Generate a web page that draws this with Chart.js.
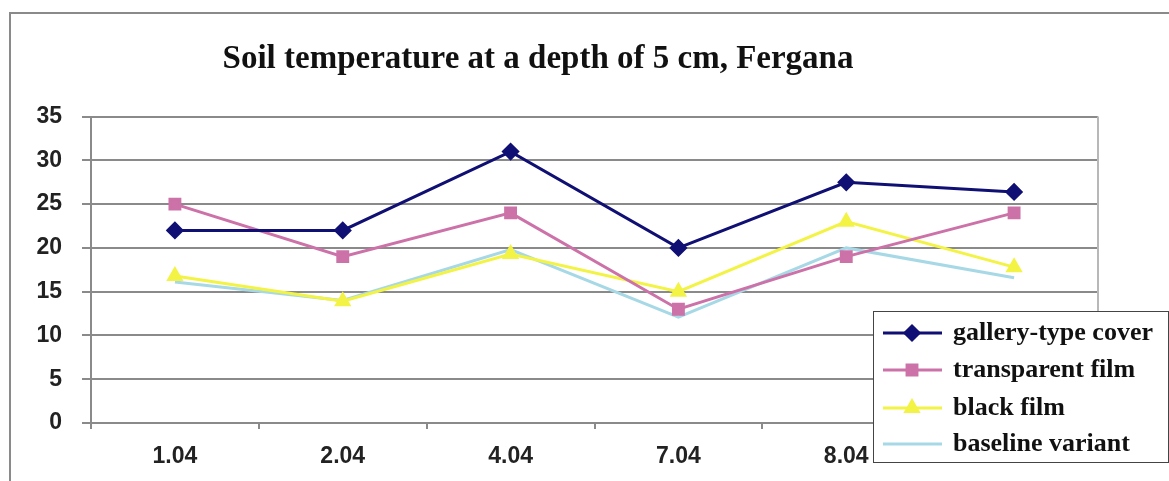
<!DOCTYPE html>
<html><head><meta charset="utf-8">
<script src="https://cdn.jsdelivr.net/npm/chart.js@4"></script>
<style>html,body{margin:0;padding:0;background:#fff}#wrap{width:1169px;height:481px;position:relative}</style>
</head><body><div id="wrap"><canvas id="c" width="1169" height="481"></canvas></div>
<script>
const categories = ['1.04', '2.04', '4.04', '7.04', '8.04', '9.04'];
const galleryCover = [22, 22, 31, 20, 27.5, 26.4];
const transparentFilm = [25, 19, 24, 13, 19, 24];
const blackFilm = [16.8, 13.9, 19.3, 15, 23, 17.8];
const baselineVariant = [16.1, 14, 19.8, 12.1, 20, 16.6];
const seriesNames = ['gallery-type cover', 'transparent film', 'black film', 'baseline variant'];
const yTicks = [0, 5, 10, 15, 20, 25, 30, 35];
const titleText = 'Soil temperature at a depth of 5 cm, Fergana';

const frameAndBorder = {
  id: 'frameAndBorder',
  beforeDraw(chart) {
    const ctx = chart.ctx;
    ctx.save();
    ctx.fillStyle = '#ffffff';
    ctx.fillRect(0, 0, chart.width, chart.height);
    ctx.strokeStyle = '#8a8a8a';
    ctx.lineWidth = 2;
    ctx.beginPath();
    ctx.moveTo(10, chart.height);
    ctx.lineTo(10, 13);
    ctx.lineTo(chart.width, 13);
    ctx.stroke();
    ctx.restore();
  },
  afterDatasetsDraw(chart) {
    const ctx = chart.ctx, a = chart.chartArea;
    ctx.save();
    ctx.strokeStyle = '#b8b8b8';
    ctx.lineWidth = 2;
    ctx.beginPath();
    ctx.moveTo(a.right, a.top);
    ctx.lineTo(a.right, a.bottom);
    ctx.stroke();
    ctx.restore();
  },
  afterLayout(chart) {
    if (chart.titleBlock) { chart.titleBlock.left = 0; chart.titleBlock.right = 1076; }
  }
};

const boxLegend = {
  id: 'boxLegend',
  afterDraw(chart, args, opts) {
    const ctx = chart.ctx;
    ctx.save();
    ctx.fillStyle = '#ffffff';
    ctx.strokeStyle = '#444';
    ctx.lineWidth = 1;
    ctx.fillRect(opts.left, opts.top, opts.right - opts.left, opts.bottom - opts.top);
    ctx.strokeRect(opts.left + 0.5, opts.top + 0.5, opts.right - opts.left, opts.bottom - opts.top);
    chart.data.datasets.forEach((ds, i) => {
      const y = opts.rows[i];
      ctx.strokeStyle = ds.borderColor;
      ctx.lineWidth = ds.borderWidth;
      ctx.beginPath();
      ctx.moveTo(opts.left + 10, y);
      ctx.lineTo(opts.left + 69, y);
      ctx.stroke();
      if (ds.pointRadius > 0) {
        ctx.fillStyle = ds.pointBackgroundColor;
        ctx.strokeStyle = ds.pointBorderColor;
        Chart.helpers.drawPoint(ctx, {pointStyle: ds.pointStyle, radius: ds.pointRadius, rotation: 0, borderWidth: 1}, opts.left + 39, y);
      }
      ctx.fillStyle = '#111';
      ctx.font = 'bold 26px "Liberation Serif"';
      ctx.textBaseline = 'middle';
      ctx.textAlign = 'left';
      ctx.fillText(ds.label, opts.left + 80, y);
    });
    ctx.restore();
  }
};

const tickFont = {family: '"Liberation Sans"', size: 23, weight: 'bold'};

new Chart(document.getElementById('c'), {
  type: 'line',
  data: {
    labels: categories,
    datasets: [
      {label: seriesNames[0], data: galleryCover, borderColor: '#0f0f74', pointBackgroundColor: '#0f0f74', pointBorderColor: '#0f0f74', pointStyle: 'rectRot', pointRadius: 7, borderWidth: 3},
      {label: seriesNames[1], data: transparentFilm, borderColor: '#cc72a8', pointBackgroundColor: '#cc72a8', pointBorderColor: '#cc72a8', pointStyle: 'rect', pointRadius: 7, borderWidth: 3},
      {label: seriesNames[2], data: blackFilm, borderColor: '#f3f345', pointBackgroundColor: '#f3f345', pointBorderColor: '#f3f345', pointStyle: 'triangle', pointRadius: 7, borderWidth: 3},
      {label: seriesNames[3], data: baselineVariant, borderColor: '#a7d8e6', pointBackgroundColor: '#a7d8e6', pointBorderColor: '#a7d8e6', pointStyle: 'circle', pointRadius: 0, borderWidth: 3}
    ]
  },
  options: {
    responsive: false,
    animation: false,
    devicePixelRatio: 1,
    layout: {padding: {left: 0, right: 71, top: 0, bottom: 0}},
    elements: {line: {tension: 0}},
    scales: {
      x: {
        type: 'category',
        offset: true,
        grid: {drawOnChartArea: false, drawTicks: true, tickLength: 6, offset: true, color: '#8a8a8a', lineWidth: 2},
        border: {display: true, color: '#8a8a8a', width: 2},
        ticks: {font: tickFont, color: '#222', padding: 14, maxRotation: 0, autoSkip: false},
        afterFit(s) { s.height = 58; }
      },
      y: {
        min: 0, max: 35,
        grid: {color: '#8a8a8a', lineWidth: 2, drawTicks: true, tickLength: 9},
        border: {display: true, color: '#8a8a8a', width: 2},
        ticks: {font: tickFont, color: '#222', padding: 20},
        afterBuildTicks(s) { s.ticks = yTicks.map(v => ({value: v})); },
        afterFit(s) { s.width = 91; }
      }
    },
    plugins: {
      legend: {display: false},
      tooltip: {enabled: false},
      title: {display: true, text: titleText, color: '#111',
        font: {family: '"Liberation Serif"', size: 33, weight: 'bold', lineHeight: 1.2},
        padding: {top: 40, bottom: 37}},
      boxLegend: {left: 873, top: 311, right: 1168, bottom: 462, rows: [333, 370, 408, 444]}
    }
  },
  plugins: [frameAndBorder, boxLegend]
});
</script></body></html>
